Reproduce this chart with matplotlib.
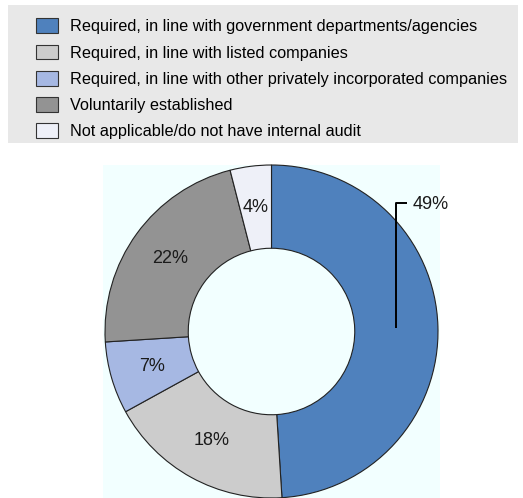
import matplotlib
matplotlib.use('Agg')
import matplotlib.pyplot as plt
import numpy as np
from matplotlib.patches import Patch, Rectangle

plt.rcParams['font.family'] = ['Liberation Sans', 'DejaVu Sans']

# internal audit function set-up, share of respondents (%)
categories = [
    'Required, in line with government departments/agencies',
    'Required, in line with listed companies',
    'Required, in line with other privately incorporated companies',
    'Voluntarily established',
    'Not applicable/do not have internal audit',
]
shares = [49, 18, 7, 22, 4]
colors = ['#4f81bd', '#cccccc', '#a6b8e3', '#939393', '#eef0f8']

W, H = 523, 498
fig = plt.figure(figsize=(W / 100, H / 100), dpi=100)

# grey legend panel across the top
fig.patches.append(Rectangle((8 / W, 1 - 143 / H), 510 / W, 138 / H,
                             transform=fig.transFigure, facecolor='#e8e8e8',
                             edgecolor='none', zorder=0))

ax = fig.add_axes([103 / W, 0, 337 / W, 333 / H])

wedges, texts, autotexts = ax.pie(
    shares, colors=colors, startangle=90, counterclock=False,
    autopct='%d%%', pctdistance=0.75, radius=1.0,
    wedgeprops=dict(width=0.5, edgecolor='#222222', linewidth=0.8),
    textprops=dict(fontsize=13, color='#1a1a1a'))
ax.set_xlim(-1.0, 1.0)
ax.set_ylim(-1.0, 1.0)
ax.set_aspect('equal', adjustable='datalim')
ax.set_frame_on(True)
ax.patch.set_visible(True)
ax.set_facecolor('#f2ffff')
for s in ax.spines.values():
    s.set_visible(False)
ax.set_xticks([])
ax.set_yticks([])

# the large slice gets its label outside with a bracket-style leader
w0 = wedges[0]
mid = np.deg2rad((w0.theta1 + w0.theta2) / 2)
x0, y0 = 0.75 * np.cos(mid), 0.75 * np.sin(mid)
autotexts[0].set_visible(False)
ax.plot([x0, x0, x0 + 0.065], [y0, 0.77, 0.77], color='black', lw=1.4,
        clip_on=False, solid_capstyle='butt')
ax.text(x0 + 0.1, 0.765, '%d%%' % shares[0], fontsize=13, color='#1a1a1a',
        ha='left', va='center', clip_on=False)

handles = [Patch(facecolor=c, edgecolor='#333333', linewidth=0.8) for c in colors]
fig.legend(handles, categories, loc='upper left',
           bbox_to_anchor=(29 / W, 1 - 12 / H), frameon=False,
           fontsize=11.7, handlelength=1.4, handleheight=1.0,
           handletextpad=0.7, labelspacing=0.64, borderaxespad=0)

fig.savefig('out.png', dpi=100)
